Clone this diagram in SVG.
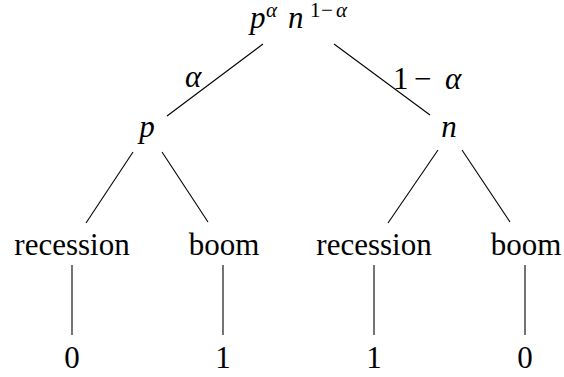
<svg xmlns="http://www.w3.org/2000/svg" width="564" height="377" viewBox="0 0 564 377">
<rect width="564" height="377" fill="#fff"/>
<g id="connectors" stroke="#000" stroke-width="1.1" fill="none">
<line x1="263" y1="44" x2="167" y2="116"/>
<line x1="334" y1="44" x2="430" y2="115"/>
<line x1="133" y1="152" x2="86" y2="223"/>
<line x1="162" y1="152" x2="208" y2="222"/>
<line x1="438" y1="150" x2="388" y2="223"/>
<line x1="462" y1="150" x2="510" y2="222"/>
<line x1="72" y1="265" x2="72" y2="335"/>
<line x1="223" y1="265" x2="223" y2="335"/>
<line x1="374" y1="265" x2="374" y2="335"/>
<line x1="525" y1="265" x2="525" y2="335"/>
</g>
<g id="leaf-p-recession"><text font-family="Times New Roman" font-size="31" x="72" y="255" text-anchor="middle">recession</text></g>
<g id="leaf-p-boom"><text font-family="Times New Roman" font-size="31" x="224" y="255" text-anchor="middle">boom</text></g>
<g id="leaf-n-recession"><text font-family="Times New Roman" font-size="31" x="374" y="255" text-anchor="middle">recession</text></g>
<g id="leaf-n-boom"><text font-family="Times New Roman" font-size="31" x="526" y="255" text-anchor="middle">boom</text></g>
<g id="val-1"><text font-family="Times New Roman" font-size="31" x="72" y="368" text-anchor="middle">0</text></g>
<g id="val-2"><text font-family="Times New Roman" font-size="31" x="223" y="368" text-anchor="middle">1</text></g>
<g id="val-3"><text font-family="Times New Roman" font-size="31" x="374" y="368" text-anchor="middle">1</text></g>
<g id="val-4"><text font-family="Times New Roman" font-size="31" x="525" y="368" text-anchor="middle">0</text></g>
<g id="node-p"><text font-family="Times New Roman" font-size="31" font-style="italic" x="147" y="137" text-anchor="middle">p</text></g>
<g id="node-n"><text font-family="Times New Roman" font-size="31" font-style="italic" x="449" y="137" text-anchor="middle">n</text></g>
<g id="root">
<text font-family="Times New Roman" font-size="31" font-style="italic" x="250" y="28">p</text>
<text font-family="Times New Roman" font-size="21" font-style="italic" x="266" y="17">&#945;</text>
<text font-family="Times New Roman" font-size="31" font-style="italic" x="288" y="28">n</text>
<text font-family="Times New Roman" font-size="21" x="310" y="17">1</text>
<text font-family="Times New Roman" font-size="21" x="321" y="17">&#8722;</text>
<text font-family="Times New Roman" font-size="21" font-style="italic" x="336" y="17">&#945;</text>
</g>
<g id="edge-labels">
<text font-family="Times New Roman" font-size="31" font-style="italic" x="185" y="87">&#945;</text>
<text font-family="Times New Roman" font-size="31" x="393" y="89">1</text>
<text font-family="Times New Roman" font-size="31" x="414" y="89">&#8722;</text>
<text font-family="Times New Roman" font-size="31" font-style="italic" x="445" y="89">&#945;</text>
</g>
</svg>
